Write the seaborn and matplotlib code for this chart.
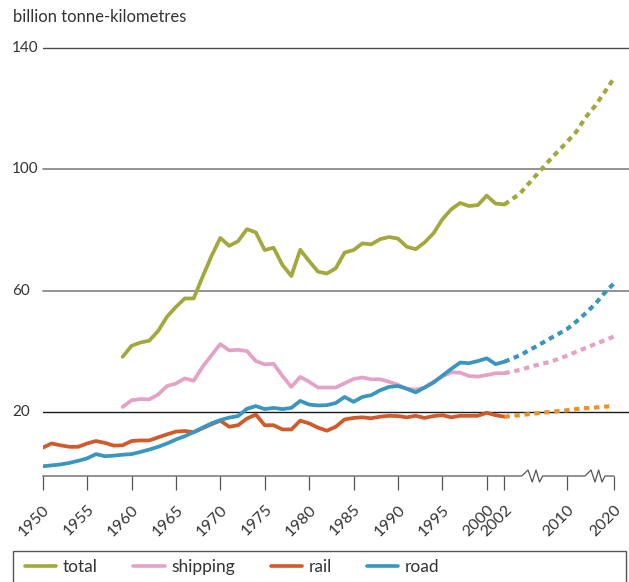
import numpy as np
import pandas as pd
import matplotlib
matplotlib.use("Agg")
import matplotlib.pyplot as plt
from matplotlib.lines import Line2D
from matplotlib.patches import Rectangle
import matplotlib.transforms as mtransforms
import seaborn as sns

# ---------------- data ----------------
years_rail_road = list(range(1950, 2003))
years_total_ship = list(range(1959, 2003))

total = [38.3, 41.9, 43.0, 43.6, 46.8, 51.5, 54.7, 57.5, 57.5, 64.6, 71.4, 77.4, 74.8, 76.3,
         80.3, 79.2, 73.4, 74.2, 68.5, 64.9, 73.5, 69.8, 66.3, 65.7, 67.4, 72.6, 73.4, 75.6,
         75.3, 77.0, 77.7, 77.2, 74.5, 73.7, 75.9, 78.9, 83.5, 86.8, 88.9, 87.9, 88.2, 91.3,
         88.7, 88.4]
shipping = [21.8, 24.0, 24.4, 24.3, 25.9, 28.7, 29.5, 31.2, 30.4, 35.0, 38.8, 42.5, 40.4, 40.6,
            40.2, 36.9, 35.8, 36.0, 32.0, 28.4, 31.7, 30.1, 28.2, 28.2, 28.2, 29.6, 31.0, 31.5,
            30.9, 30.9, 30.1, 29.1, 27.8, 27.5, 28.2, 30.1, 31.8, 33.2, 33.1, 32.0, 31.8, 32.3,
            32.9, 32.9]
rail = [8.4, 9.8, 9.2, 8.7, 8.7, 9.8, 10.6, 10.0, 9.1, 9.2, 10.6, 10.8, 10.8, 11.8, 12.8, 13.7,
        13.9, 13.5, 14.8, 16.1, 17.3, 15.3, 15.8, 18.0, 19.3, 15.8, 15.8, 14.4, 14.4, 17.3, 16.4,
        15.0, 14.0, 15.3, 17.7, 18.2, 18.4, 18.1, 18.6, 18.9, 18.8, 18.4, 18.9, 18.2, 18.8, 19.1,
        18.4, 18.9, 18.9, 18.9, 19.9, 19.1, 18.6]
road = [2.3, 2.6, 2.9, 3.4, 4.1, 4.9, 6.3, 5.6, 5.8, 6.1, 6.3, 7.0, 7.8, 8.7, 9.8, 11.1, 12.2,
        13.5, 15.0, 16.4, 17.5, 18.3, 18.8, 21.2, 22.1, 21.1, 21.5, 21.1, 21.5, 23.8, 22.6, 22.3,
        22.4, 23.1, 25.1, 23.5, 25.1, 25.7, 27.3, 28.4, 28.7, 27.8, 26.6, 28.2, 29.8, 32.1, 34.3,
        36.4, 36.2, 36.9, 37.8, 35.9, 36.7]

years_proj = [2002, 2004, 2006, 2008, 2010, 2012, 2014, 2016, 2018, 2020]
total_proj = [88.4, 92.0, 97.8, 103.5, 108.8, 112.2, 117.0, 120.8, 125.3, 130.0]
shipping_proj = [32.9, 34.0, 35.5, 36.7, 38.6, 39.9, 41.2, 42.5, 43.7, 45.0]
road_proj = [36.7, 38.8, 41.6, 44.5, 47.3, 49.8, 52.6, 55.6, 59.3, 62.5]
rail_proj = [18.6, 19.1, 19.7, 20.2, 20.7, 21.1, 21.4, 21.6, 21.9, 22.1]

series_names = ["total", "shipping", "rail", "road"]
tick_years = [1950, 1955, 1960, 1965, 1970, 1975, 1980, 1985, 1990, 1995, 2000, 2002, 2010, 2020]
grid_values = [140, 100, 60, 20]
y_title = "billion tonne-kilometres"

# ---------------- styling ----------------
colors = {"total": "#a2a83c", "shipping": "#e4a2c6", "rail": "#d15a2b", "road": "#3896bf"}
proj_colors = {"total": "#a2a83c", "shipping": "#e4a2c6", "rail": "#e9922a", "road": "#3896bf"}
text_color = "#333333"

# broken x-axis: compressed scale after 2002
P2010 = 2008.99
P2020 = 2014.34


def pos(y):
    y = np.asarray(y, dtype=float)
    return np.where(y <= 2002, y,
                    np.where(y <= 2010, 2002 + (y - 2002) * (P2010 - 2002) / 8.0,
                             P2010 + (y - 2010) * (P2020 - P2010) / 10.0))


actual = pd.concat([
    pd.DataFrame({"year": years_total_ship, "value": total, "series": "total"}),
    pd.DataFrame({"year": years_total_ship, "value": shipping, "series": "shipping"}),
    pd.DataFrame({"year": years_rail_road, "value": rail, "series": "rail"}),
    pd.DataFrame({"year": years_rail_road, "value": road, "series": "road"}),
], ignore_index=True)
actual["pos"] = pos(actual["year"])

proj = pd.concat([
    pd.DataFrame({"year": years_proj, "value": total_proj, "series": "total"}),
    pd.DataFrame({"year": years_proj, "value": shipping_proj, "series": "shipping"}),
    pd.DataFrame({"year": years_proj, "value": rail_proj, "series": "rail"}),
    pd.DataFrame({"year": years_proj, "value": road_proj, "series": "road"}),
], ignore_index=True)
proj["pos"] = pos(proj["year"])

sns.set_theme(style="white")
plt.rcParams["font.family"] = ["Lato", "DejaVu Sans"]

W, H = 629, 582
fig = plt.figure(figsize=(W / 100, H / 100), dpi=100)
x0_px, x1_px = 42.7, 629.0
y_top_px, y_bot_px = 47.0, 476.0
ax = fig.add_axes([x0_px / W, 1 - y_bot_px / H, (x1_px - x0_px) / W, (y_bot_px - y_top_px) / H])

px_per_year = 8.88
ax.set_xlim(1950, 1950 + (x1_px - x0_px) / px_per_year)
ax.set_ylim(-0.9, 140.2)

# gridlines
grid_styles = {140: ("#4a4a4a", 1.0), 100: ("#8a8a8a", 1.3), 60: ("#8a8a8a", 1.3), 20: ("#1a1a1a", 1.0)}
for gv in grid_values:
    c, lw = grid_styles[gv]
    ax.axhline(gv, color=c, lw=lw, zorder=1, clip_on=False)
    ax.text(-0.052, gv, str(gv), transform=ax.get_yaxis_transform(), ha="left", va="center",
            fontsize=11, color=text_color)

# lines
for s in series_names:
    sub = actual[actual["series"] == s]
    sns.lineplot(data=sub, x="pos", y="value", color=colors[s], lw=2.7, ax=ax,
                 estimator=None, sort=True, zorder=3)
for s in series_names:
    sub = proj[proj["series"] == s]
    sns.lineplot(data=sub, x="pos", y="value", color=proj_colors[s], lw=3.0, ax=ax,
                 estimator=None, sort=True, zorder=3, linestyle=(0, (1.3, 1.1)))

ax.set_xlabel("")
ax.set_ylabel("")
for sp in ax.spines.values():
    sp.set_visible(False)
ax.set_yticks([])

# x ticks
ax.set_xticks(pos(tick_years))
ax.set_xticklabels([str(t) for t in tick_years], rotation=45, ha="right", va="top",
                   rotation_mode="anchor", fontsize=11.5, color=text_color)
ax.tick_params(axis="x", direction="out", length=10, width=0.9, color="#555555", pad=9,
               bottom=True)

# axis line with break glyphs
trans = mtransforms.blended_transform_factory(ax.transData, ax.transAxes)
amp = 6.0 / (y_bot_px - y_top_px)


def zig(xa, xb):
    fr = [0, 0.3, 0.5, 0.68, 0.85, 1.0]
    yy = [0, 1, -1, 1, -1, 0]
    return [xa + f * (xb - xa) for f in fr], [v * amp for v in yy]


b1 = (1950 + (521.7 - x0_px) / px_per_year, 1950 + (542.7 - x0_px) / px_per_year)
b2 = (1950 + (585.0 - x0_px) / px_per_year, 1950 + (605.0 - x0_px) / px_per_year)
zx1, zy1 = zig(*b1)
zx2, zy2 = zig(*b2)
axis_x = [1950] + zx1 + zx2 + [float(pos(2020))]
axis_y = [0] + zy1 + zy2 + [0]
ax.plot(axis_x, axis_y, transform=trans, color="#555555", lw=0.9, clip_on=False, zorder=2)

# title
fig.text(13 / W, 1 - 17 / H, y_title, ha="left", va="center", fontsize=12, color=text_color)

# legend
handles = [Line2D([0], [0], color=colors[s], lw=2.6) for s in series_names]
leg = fig.legend(handles, series_names, loc="center left", bbox_to_anchor=(25 / W, 1 - 567 / H),
                 ncol=4, frameon=False, fontsize=12.5, handlelength=1.8, handletextpad=0.38,
                 columnspacing=2.05, borderpad=0, borderaxespad=0)
for t in leg.get_texts():
    t.set_color(text_color)
fig.add_artist(Rectangle((13 / W, -0.05), (626 - 13) / W, 0.05 + (582 - 550.8) / H,
                         transform=fig.transFigure, fill=False, ec="#555555", lw=1.0,
                         clip_on=False))

fig.savefig("out.png", dpi=100)
